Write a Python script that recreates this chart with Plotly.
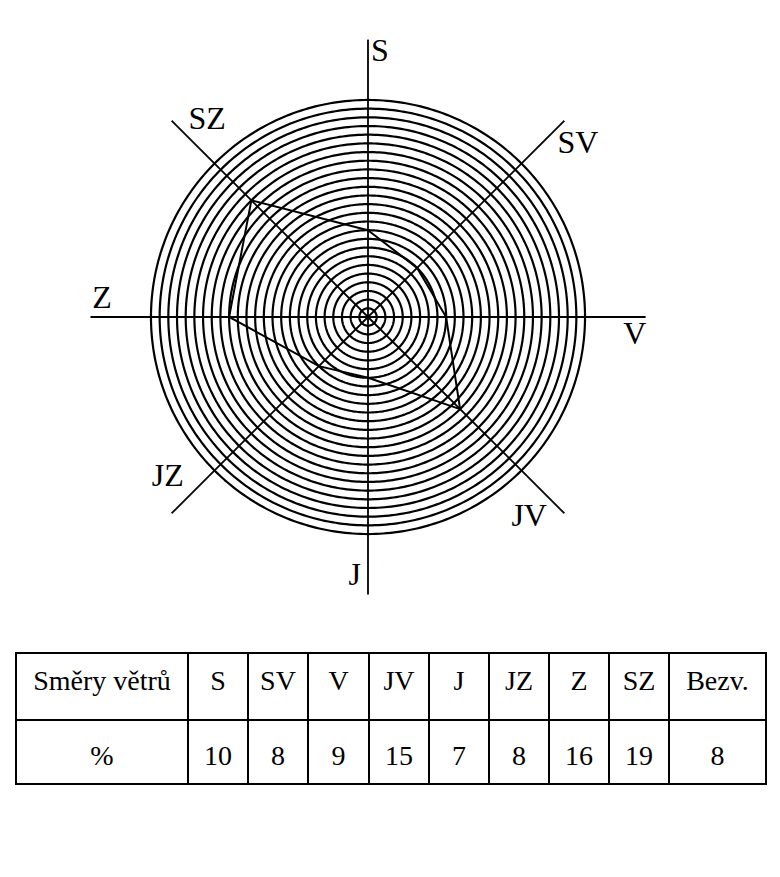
import numpy as np
import plotly.graph_objects as go

# ---- data ----
DIRECTIONS = ["S", "SV", "V", "JV", "J", "JZ", "Z", "SZ"]
ANGLES = [0, 45, 90, 135, 180, 225, 270, 315]
PERCENT = [10, 8, 9, 15, 7, 8, 16, 19]
CALM_LABEL = "Bezv."
CALM_PERCENT = 8
TABLE_HEAD = "Směry větrů"
TABLE_UNIT = "%"
RING_VALUES = list(range(1, 26))
AXIS_LENGTH = 32

# ---- layout parameters (label placement in polar coords) ----
LABEL_R = [30.4, 31.3, 30.8, 29.7, 30.0, 29.6, 30.7, 29.2]
LABEL_T = [2.6, 50.6, 94.0, 141.3, 182.9, 231.2, 273.7, 320.6]

W, H = 780, 877
OFF = 8  # page body margin
CX, CY = 368 - OFF, 317 - OFF
RPX = 277.8
FONT = "Liberation Serif"
TXT = 28


def lowered(s):
    # tiny spacer line above, real text in a larger span (vertical centring in cells)
    return "\u00a0<br><span style='font-size:%dpx'>%s</span>" % (TXT, s)


fig = go.Figure()

# concentric rings
ring_r, ring_t = [], []
circle_t = np.linspace(0, 360, 361)
for v in RING_VALUES:
    ring_r += [v] * len(circle_t) + [None]
    ring_t += list(circle_t) + [None]
fig.add_trace(go.Scatterpolar(r=ring_r, theta=ring_t, mode="lines",
                              line=dict(color="black", width=2.2),
                              hoverinfo="skip", subplot="polar"))

# direction axes
ax_r, ax_t = [], []
for a in ANGLES:
    ax_r += [0, AXIS_LENGTH, None]
    ax_t += [a, a, None]
fig.add_trace(go.Scatterpolar(r=ax_r, theta=ax_t, mode="lines",
                              line=dict(color="black", width=1.8),
                              hoverinfo="skip", subplot="polar"))

# wind polygon
fig.add_trace(go.Scatterpolar(r=PERCENT + [PERCENT[0]], theta=ANGLES + [ANGLES[0]],
                              mode="lines", line=dict(color="black", width=2),
                              subplot="polar"))

# direction labels
fig.add_trace(go.Scatterpolar(r=LABEL_R, theta=LABEL_T, mode="text", text=DIRECTIONS,
                              textposition="middle center",
                              textfont=dict(family=FONT, size=32, color="black"),
                              hoverinfo="skip", subplot="polar", cliponaxis=False))

# table
head_vals = [lowered(v) for v in [TABLE_HEAD] + DIRECTIONS + [CALM_LABEL]]
cell_vals = [[lowered(TABLE_UNIT)]] + [[lowered(v)] for v in PERCENT] + [[lowered(CALM_PERCENT)]]
fig.add_trace(go.Table(
    domain=dict(x=[(16 - OFF) / W, (766 - OFF) / W], y=[1 - (800 - OFF) / H, 1 - (653 - OFF) / H]),
    columnwidth=[172, 60, 60, 61, 60, 60, 60, 60, 60, 97],
    header=dict(values=head_vals, height=67,
                line=dict(color="black", width=2), fill=dict(color="white"),
                font=dict(family=FONT, size=13.2, color="black"), align="center"),
    cells=dict(values=cell_vals, height=64,
               line=dict(color="black", width=2), fill=dict(color="white"),
               font=dict(family=FONT, size=17.0, color="black"), align="center"),
))

fig.update_layout(
    width=W, height=H, margin=dict(l=0, r=0, t=0, b=0),
    paper_bgcolor="white", plot_bgcolor="white", showlegend=False,
    polar=dict(
        domain=dict(x=[(CX - RPX) / W, (CX + RPX) / W],
                    y=[1 - (CY + RPX) / H, 1 - (CY - RPX) / H]),
        bgcolor="white",
        radialaxis=dict(range=[0, AXIS_LENGTH], visible=False),
        angularaxis=dict(visible=False, rotation=90, direction="clockwise"),
    ),
)

fig.write_html("out.html")
